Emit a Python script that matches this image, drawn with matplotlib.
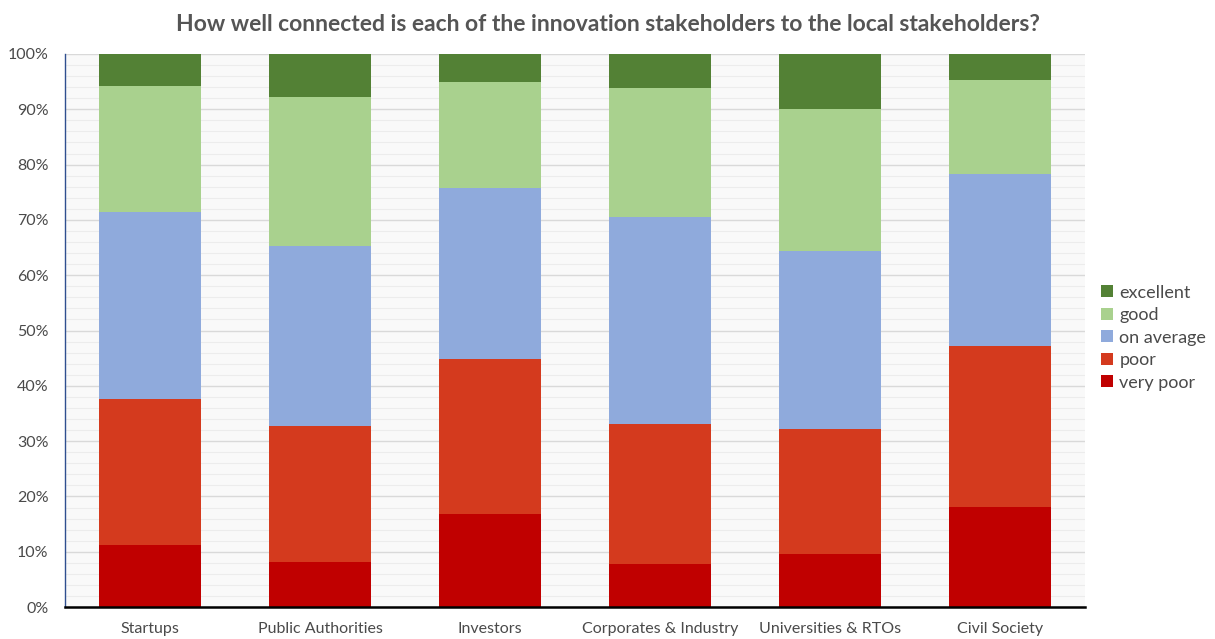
import matplotlib
matplotlib.use("Agg")
import matplotlib.pyplot as plt
from matplotlib.ticker import MultipleLocator, PercentFormatter
import numpy as np

categories = ["Startups", "Public Authorities", "Investors",
              "Corporates & Industry", "Universities & RTOs", "Civil Society"]
levels = ["very poor", "poor", "on average", "good", "excellent"]

very_poor = [11.2, 8.1, 16.8, 7.8, 9.6, 18.1]
poor = [26.4, 24.6, 28.0, 25.3, 22.6, 29.1]
on_average = [33.8, 32.6, 31.0, 37.4, 32.2, 31.1]
good = [22.8, 26.9, 19.1, 23.4, 25.7, 17.0]
excellent = [5.8, 7.8, 5.1, 6.1, 9.9, 4.7]

series = [very_poor, poor, on_average, good, excellent]
colors = ["#C00000", "#D43A1E", "#8FAADC", "#A9D18E", "#538135"]

plt.rcParams["font.family"] = ["Lato", "DejaVu Sans"]

fig = plt.figure(figsize=(12.15, 6.39), dpi=100)
ax = fig.add_axes([0.0535, 0.05, 0.8395, 0.8655])
ax.set_facecolor("#f9f9f9")

x = np.arange(len(categories))
bottom = np.zeros(len(categories))
handles = []
for vals, col, lab in zip(series, colors, levels):
    b = ax.bar(x, vals, width=0.595, bottom=bottom, color=col, label=lab,
               zorder=3, linewidth=0)
    bottom += np.array(vals)
    handles.append(b)

ax.set_xlim(-0.5, len(categories) - 0.5)
ax.set_ylim(0, 100)
ax.yaxis.set_major_locator(MultipleLocator(10))
ax.yaxis.set_minor_locator(MultipleLocator(2))
ax.yaxis.set_major_formatter(PercentFormatter(decimals=0))
ax.grid(axis="y", which="major", color="#d9d9d9", linewidth=1.0, zorder=0)
ax.grid(axis="y", which="minor", color="#ececec", linewidth=0.8, zorder=0)

ax.set_xticks(x)
ax.set_xticklabels(categories)
ax.tick_params(axis="both", which="both", length=0, labelsize=11.5, labelcolor="#4a4a4a")
ax.tick_params(axis="x", pad=11)
ax.tick_params(axis="y", pad=12)

for s in ["top", "right"]:
    ax.spines[s].set_visible(False)
ax.spines["left"].set_color("#2f4f8f")
ax.spines["left"].set_linewidth(1.0)
ax.spines["bottom"].set_color("#000000")
ax.spines["bottom"].set_linewidth(1.8)
ax.spines["bottom"].set_zorder(4)

fig.text(0.5, 0.962, "How well connected is each of the innovation stakeholders to the local stakeholders?",
         ha="center", va="center", fontsize=16.5, fontweight="bold", color="#555555")

leg = ax.legend(handles[::-1], levels[::-1], loc="center left",
                bbox_to_anchor=(1.0, 0.487), frameon=False, fontsize=13,
                handlelength=0.65, handleheight=0.65, handletextpad=0.35,
                labelspacing=0.36, labelcolor="#4a4a4a")

fig.savefig("out.png", dpi=100)
